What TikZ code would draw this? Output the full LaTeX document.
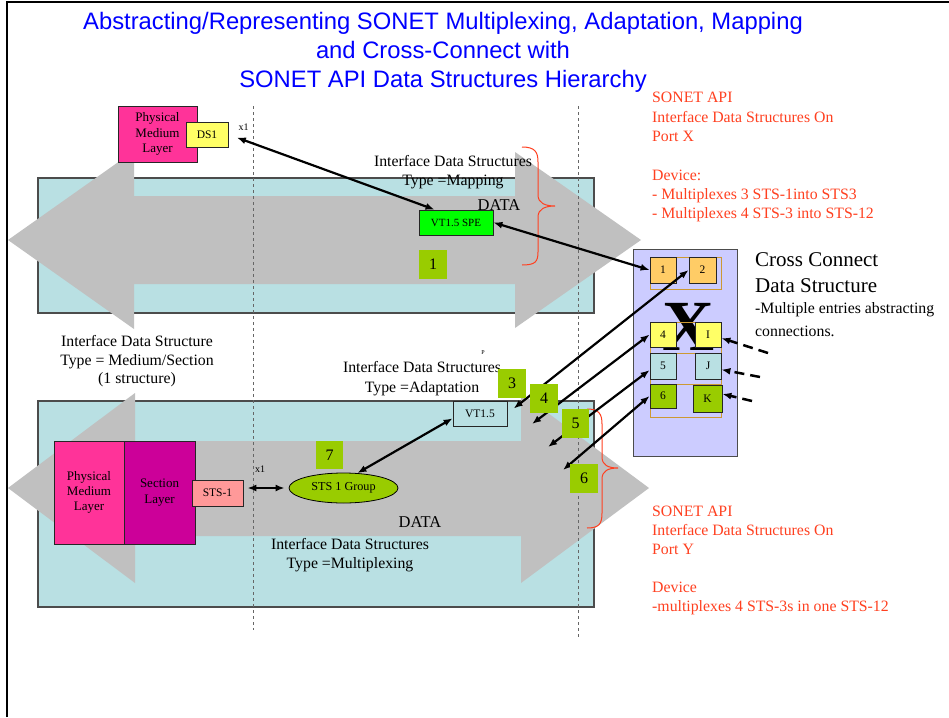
\documentclass[tikz,border=0pt]{standalone}
\usepackage{fontspec}
\setmainfont{Liberation Serif}
\newfontfamily\titlesans{Liberation Sans}
\usetikzlibrary{arrows.meta,shapes.geometric}
\definecolor{bandblue}{RGB}{185,224,227}
\definecolor{arrgray}{RGB}{192,192,192}
\definecolor{pinkc}{RGB}{255,51,153}
\definecolor{magc}{RGB}{204,0,153}
\definecolor{yelc}{RGB}{255,255,102}
\definecolor{grnc}{RGB}{0,255,0}
\definecolor{olivec}{RGB}{153,204,0}
\definecolor{orangec}{RGB}{255,204,102}
\definecolor{lavc}{RGB}{204,204,255}
\definecolor{salmonc}{RGB}{255,153,153}
\definecolor{redtxt}{RGB}{255,64,32}
\definecolor{titleblue}{RGB}{0,0,255}
\definecolor{tanc}{RGB}{204,153,51}
\begin{document}
\begin{tikzpicture}[x=1pt,y=-1pt,
  band/.style={fill=bandblue,draw=black!70,line width=1.2pt},
  bigarrow/.style={fill=arrgray},
  guide/.style={draw=black!60,line width=1pt,dash pattern=on 3pt off 3pt},
  brace/.style={draw=redtxt,line width=1pt},
  lbl/.style={inner sep=0pt,align=center,anchor=north},
  redblock/.style={inner sep=0pt,anchor=north west,align=left,text=redtxt,font=\fontsize{15.8}{19.3}\selectfont},
  box/.style={draw=black!85,line width=0.8pt,inner sep=0pt,font=\fontsize{11.5}{13}\selectfont},
  layerbox/.style={box,align=center,font=\fontsize{13}{15.3}\selectfont},
  ccbox/.style={box,minimum width=26pt,minimum height=25pt,font=\fontsize{11.5}{13}\selectfont},
  numbox/.style={fill=olivec,inner sep=0pt,minimum width=28pt,minimum height=29pt,font=\fontsize{16}{18}\selectfont},
  ccframe/.style={draw=tanc,line width=1pt},
  link/.style={{Latex[length=9pt,width=7pt]}-{Latex[length=9pt,width=7pt]},line width=2.2pt},
  dlink/.style={-{Latex[length=9pt,width=7pt]},line width=2.5pt,dash pattern=on 10pt off 6pt},
]
\useasboundingbox (0,0) rectangle (949,717);
\fill[white] (0,0) rectangle (949,717);
% page frame
\draw[line width=2pt] (7,717) -- (7,2.5) -- (949,2.5);
% bands
\draw[band] (38,178) rectangle (594,313);
\draw[band] (38,401) rectangle (594,607);
% big gray double arrows
\fill[bigarrow] (8,240) -- (134,151) -- (134,196) -- (515,196) -- (515,152) -- (641,240)
  -- (515,328) -- (515,284) -- (134,284) -- (134,329) -- cycle;
\fill[bigarrow] (8,488) -- (135,393) -- (135,441) -- (521,441) -- (521,393) -- (649,488)
  -- (521,583) -- (521,536) -- (135,536) -- (135,583) -- cycle;
% dashed guides
\draw[guide] (253,106) -- (253,630);
\draw[guide] (578,106) -- (578,637);
% braces
\draw[brace] (522,147) .. controls (535,147) and (538,152) .. (538,162) -- (538,195)
  .. controls (538,203) and (545,206) .. (555,206) .. controls (545,206) and (538,209) .. (538,217)
  -- (538,252) .. controls (538,262) and (535,265) .. (522,265);
\draw[brace] (587,409) .. controls (599,409) and (602,414) .. (602,424) -- (602,457)
  .. controls (602,465) and (608,468) .. (618,468) .. controls (608,468) and (602,471) .. (602,479)
  -- (602,513) .. controls (602,524) and (599,528) .. (587,528);
% title
\node[lbl,text=titleblue,font=\titlesans\fontsize{23.8}{28.8}\selectfont] (title) at (443,12)
  {Abstracting/Representing SONET Multiplexing, Adaptation, Mapping\\and Cross-Connect with\\SONET API Data Structures Hierarchy};
% red texts
\node[redblock] (portx) at (652,92.2) {SONET API\\Interface Data Structures On\\Port X\\[19.3pt]Device:\\- Multiplexes 3 STS-1into STS3\\- Multiplexes 4 STS-3 into STS-12};
\node[redblock,font=\fontsize{15.8}{19}\selectfont] (porty) at (652,506.2) {SONET API\\Interface Data Structures On\\Port Y\\[19pt]Device\\-multiplexes 4 STS-3s in one STS-12};
% black labels
\node[lbl,font=\fontsize{15.8}{19}\selectfont] (tmap) at (453,155.2) {Interface Data Structures\\Type =Mapping};
\node[inner sep=0pt,anchor=base,font=\fontsize{16.5}{18}\selectfont] (dataA) at (499,210.7) {DATA};
\node[lbl,font=\fontsize{15.8}{18.5}\selectfont] (tmed) at (137,335.2) {Interface Data Structure\\Type = Medium/Section\\(1 structure)};
\node[lbl,font=\fontsize{15.8}{20}\selectfont] (tadp) at (422,361.5) {Interface Data Structures\\Type =Adaptation};
\node[inner sep=0pt,font=\fontsize{6}{7}\selectfont] (tinyp) at (483,353) {P};
\node[inner sep=0pt,anchor=base,font=\fontsize{16.5}{18}\selectfont] (dataB) at (420,527.3) {DATA};
\node[lbl,font=\fontsize{15.8}{18.7}\selectfont] (tmux) at (350,538.2) {Interface Data Structures\\Type =Multiplexing};
\node[inner sep=0pt,anchor=north west,align=left,font=\fontsize{21}{26}\selectfont] (cctitle) at (755,252.4) {Cross Connect\\Data Structure};
\node[inner sep=0pt,anchor=north west,align=left,font=\fontsize{15.8}{23.3}\selectfont] (ccdesc) at (755,301.9) {-Multiple entries abstracting\\connections.};
\node[inner sep=0pt,font=\fontsize{10}{12}\selectfont] (xa) at (243.5,127.5) {x1};
\node[inner sep=0pt,font=\fontsize{10}{12}\selectfont] (xb) at (260,469) {x1};
% boxes
\node[layerbox,fill=pinkc,minimum width=79pt,minimum height=56pt] (pmlA) at (157.5,134)
  {\raisebox{-2.3pt}{\begin{tabular}{@{}c@{}}Physical\\Medium\\Layer\end{tabular}}};
\node[box,fill=yelc,minimum width=42pt,minimum height=25pt] (ds1) at (207,134.5) {DS1};
\node[box,fill=grnc,minimum width=74pt,minimum height=25pt,font=\fontsize{11}{13}\selectfont] (vtspe) at (456,222.5) {VT1.5 SPE};
\node[box,fill=bandblue,minimum width=54pt,minimum height=25pt] (vt15) at (480,413.5) {VT1.5};
\node[layerbox,fill=pinkc,minimum width=70pt,minimum height=103pt] (pmlB) at (89,492.5) {Physical\\Medium\\Layer};
\node[layerbox,fill=magc,minimum width=71pt,minimum height=103pt] (sect) at (159.5,492.5) {Section\\Layer};
\node[box,fill=salmonc,minimum width=51pt,minimum height=26pt] (sts1) at (217.5,493) {STS-1};
\node[ellipse,draw=black,line width=0.8pt,fill=olivec,minimum width=109pt,minimum height=30pt,inner sep=0pt,font=\fontsize{12.2}{14}\selectfont] (sts) at (343.5,488) {STS 1 Group};
% cross connect panel
\node[draw=black!70,line width=1pt,fill=lavc,minimum width=104pt,minimum height=207pt,inner sep=0pt] (cc) at (685,352.5) {};
\draw[ccframe] (650,257) rectangle (721,289);
\node[inner sep=0pt,font=\fontsize{72}{72}\selectfont\bfseries] (bigX) at (688,327) {X};
\draw[ccframe] (650,322) rectangle (721,353);
\draw[ccframe] (650,353) rectangle (721,384);
\draw[ccframe] (650,384) rectangle (721,417);
\node[ccbox,fill=orangec,minimum height=26pt] (c1) at (663,270) {1};
\node[ccbox,fill=orangec,minimum width=27pt,minimum height=26pt] (c2) at (702.5,270) {2};
\node[ccbox,fill=yelc] (c4) at (663,334.5) {4};
\node[ccbox,fill=yelc] (cI) at (708,334.5) {I};
\node[ccbox,fill=bandblue,minimum height=26pt] (c5) at (663,366) {5};
\node[ccbox,fill=bandblue,minimum height=26pt] (cJ) at (708,366) {J};
\node[ccbox,fill=olivec,minimum height=24pt] (c6) at (663,396) {6};
\node[ccbox,fill=olivec,minimum width=29pt,minimum height=27pt] (cK) at (707.5,398.5) {K};
% connectors
\draw[link,shorten <=9pt] (ds1.east) -- (vtspe.149);
\draw[link] (vtspe.east) -- (c1.west);
\draw[link,shorten <=8pt] (vt15.east) -- (c2.west);
\coordinate (e4) at (532,424);
\coordinate (e5) at (548,447);
\coordinate (e6) at (563,470);
\draw[link] (e4) -- (c4.west);
\draw[link] (e5) -- (c5.197);
\draw[link] (e6) -- (c6.west);
\draw[link] (vt15.190) -- (sts.47);
\draw[link,shorten <=4pt,shorten >=4pt] (sts1.east |- sts.west) -- (sts.west);
\coordinate (dI) at (768,353);
\coordinate (dJ) at (760,377);
\coordinate (dK) at (752,401);
\draw[dlink] (dI) -- (cI.-15);
\draw[dlink] (dJ) -- (cJ.-15);
\draw[dlink] (dK) -- (cK.17);
% number boxes
\node[numbox] (n1) at (433,264.5) {1};
\node[numbox] (n3) at (512,383) {3};
\node[numbox] (n4) at (544,398.5) {4};
\node[numbox,minimum width=27pt] (n5) at (575.5,423.5) {5};
\node[numbox] (n6) at (584,478.5) {6};
\node[numbox,minimum width=27pt,minimum height=28pt] (n7) at (329.5,455) {7};
\end{tikzpicture}
\end{document}
